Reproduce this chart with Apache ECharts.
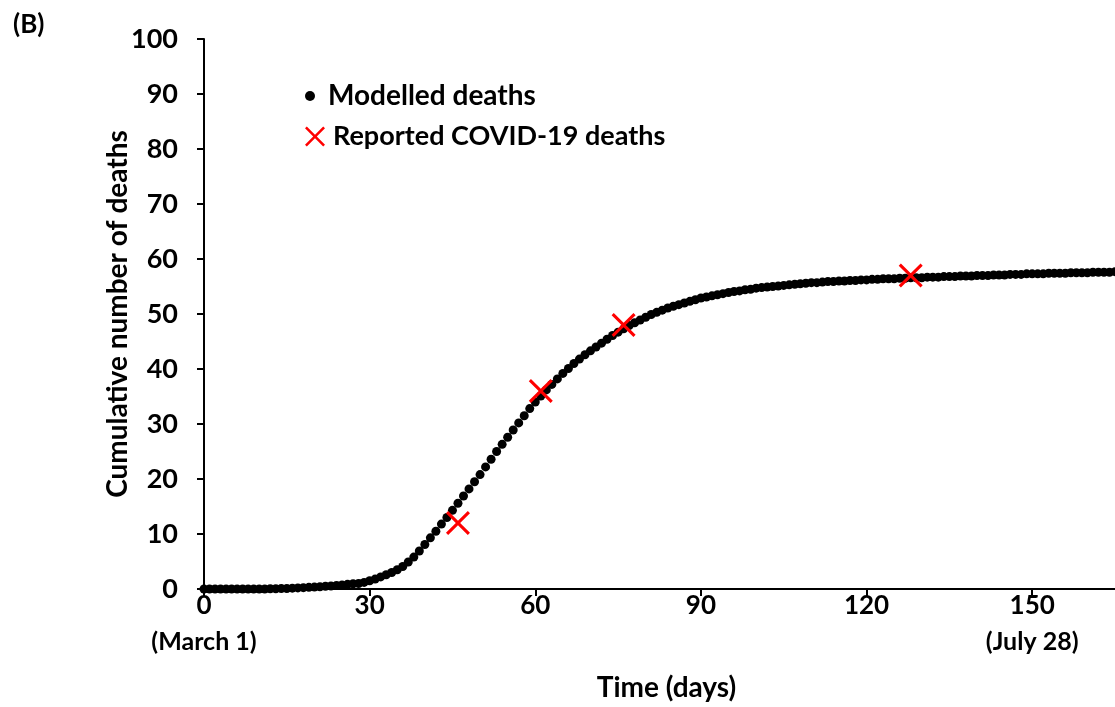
<!DOCTYPE html>
<html>
<head>
<meta charset="utf-8">
<script src="https://cdn.jsdelivr.net/npm/echarts@6/dist/echarts.min.js"></script>
<style>
  html, body { margin: 0; padding: 0; background: #fff; }
  #chart { width: 1115px; height: 707px; }
</style>
</head>
<body>
<div id="chart"></div>
<script>
// modelled cumulative deaths, one value per day from day 0 (March 1)
const modelledDeaths = [
  0, 0, 0, 0, 0, 0, 0, 0, 0, 0,
  0, 0, 0.05, 0.05, 0.1, 0.1, 0.15, 0.2, 0.25, 0.3,
  0.35, 0.4, 0.5, 0.55, 0.65, 0.75, 0.85, 0.95, 1.0, 1.2,
  1.5, 1.8, 2.2, 2.6, 3.0, 3.5, 4.1, 4.9, 5.8, 6.9,
  8.1, 9.3, 10.5, 11.8, 13.0, 14.3, 15.6, 16.9, 18.2, 19.5,
  20.8, 22.2, 23.6, 25.0, 26.3, 27.6, 28.9, 30.2, 31.5, 32.8,
  34.0, 35.1, 36.2, 37.2, 38.2, 39.2, 40.1, 41.0, 41.8, 42.6,
  43.3, 44.0, 44.7, 45.4, 46.1, 46.7, 47.3, 47.9, 48.4, 48.9,
  49.4, 49.9, 50.3, 50.7, 51.1, 51.4, 51.7, 52.0, 52.3, 52.6,
  52.9, 53.1, 53.3, 53.5, 53.7, 53.9, 54.1, 54.2, 54.4, 54.5,
  54.7, 54.8, 54.9, 55.0, 55.1, 55.2, 55.3, 55.4, 55.5, 55.6,
  55.7, 55.7, 55.8, 55.9, 55.9, 56.0, 56.0, 56.1, 56.1, 56.2,
  56.2, 56.3, 56.3, 56.4, 56.4, 56.4, 56.5, 56.5, 56.6, 56.6,
  56.6, 56.7, 56.7, 56.7, 56.8, 56.8, 56.8, 56.9, 56.9, 56.9,
  57.0, 57.0, 57.0, 57.1, 57.1, 57.1, 57.2, 57.2, 57.2, 57.3,
  57.3, 57.3, 57.3, 57.4, 57.4, 57.4, 57.4, 57.5, 57.5, 57.5,
  57.5, 57.6, 57.6, 57.6, 57.6, 57.7
]

// reported deaths
const reportedDays = [46, 61, 76, 128]
const reportedDeaths = [12, 36, 48, 57]

// extra date label under some x ticks
const dateLabels = { 0: '(March 1)', 150: '(July 28)' }

const FONT = 'Lato'
const crossIcon = 'path://M0,9L9,0L50,41L91,0L100,9L59,50L100,91L91,100L50,59L9,100L0,91L41,50Z'

const chart = echarts.init(document.getElementById('chart'))

chart.setOption({
  animation: false,
  backgroundColor: '#fff',
  textStyle: { fontFamily: FONT },
  title: {
    text: '(B)',
    left: 8,
    top: 7,
    textStyle: { fontFamily: FONT, fontSize: 26, fontWeight: 'bold', color: '#000' },
  },
  legend: [
    {
      data: [{ name: 'Modelled deaths', icon: 'circle' }],
      left: 300,
      top: 77,
      itemWidth: 26,
      itemHeight: 10,
      textStyle: { fontFamily: FONT, fontSize: 28, fontWeight: 'bold', color: '#000' },
    },
    {
      data: [{ name: 'Reported COVID-19 deaths', icon: crossIcon }],
      left: 300,
      top: 118,
      itemWidth: 26,
      itemHeight: 20,
      textStyle: { fontFamily: FONT, fontSize: 27, fontWeight: 'bold', color: '#000' },
    },
  ],
  grid: {
    left: 204,
    right: 0,
    top: 39,
    bottom: 115,
  },
  xAxis: [
    {
      type: 'value',
      min: 0,
      max: 165,
      interval: 30,
      name: 'Time (days)',
      nameLocation: 'middle',
      nameGap: 85,
      nameTextStyle: { fontFamily: FONT, fontSize: 28, fontWeight: 'bold', color: '#000', padding: [0, 0, 0, 14] },
      splitLine: { show: false },
      axisLine: { onZero: false, lineStyle: { color: '#000', width: 2 } },
      axisTick: { length: 7, lineStyle: { color: '#000', width: 2 } },
      axisLabel: {
        margin: 3,
        showMaxLabel: false,
        color: '#000',
        formatter: v => dateLabels[v] ? '{a|' + v + '}\n{b|' + dateLabels[v] + '}' : '{a|' + v + '}',
        rich: {
          a: { fontFamily: FONT, fontSize: 26, fontWeight: 'bold', color: '#000', lineHeight: 28 },
          b: { fontFamily: FONT, fontSize: 25, fontWeight: 'bold', color: '#000', lineHeight: 44 },
        },
      },
    },
    {
      type: 'value',
      position: 'top',
      min: 0,
      max: 165,
      axisLine: { show: true, lineStyle: { color: '#000', width: 2 } },
      axisTick: { show: false },
      axisLabel: { show: false },
      splitLine: { show: false },
    },
  ],
  yAxis: {
    type: 'value',
    min: 0,
    max: 100,
    interval: 10,
    name: 'Cumulative number of deaths',
    nameLocation: 'middle',
    nameGap: 72,
    nameMoveOverlap: false,
    nameTextStyle: { fontFamily: FONT, fontSize: 28, fontWeight: 'bold', color: '#000' },
    splitLine: { show: false },
    axisLine: { show: true, lineStyle: { color: '#000', width: 2 } },
    axisTick: { show: true, length: 7, lineStyle: { color: '#000', width: 2 } },
    axisLabel: {
      margin: 26,
      fontFamily: FONT,
      fontSize: 27,
      fontWeight: 'bold',
      color: '#000',
    },
  },
  series: [
    {
      name: 'Modelled deaths',
      type: 'scatter',
      symbol: 'circle',
      symbolSize: 9,
      itemStyle: { color: '#000', opacity: 1 },
      data: modelledDeaths.map((v, i) => [i, v]),
      z: 2,
    },
    {
      name: 'Reported COVID-19 deaths',
      type: 'scatter',
      symbol: crossIcon,
      symbolSize: 24,
      itemStyle: { color: '#ff0000', opacity: 1 },
      data: reportedDays.map((d, i) => [d, reportedDeaths[i]]),
      z: 3,
    },
  ],
})
</script>
</body>
</html>
